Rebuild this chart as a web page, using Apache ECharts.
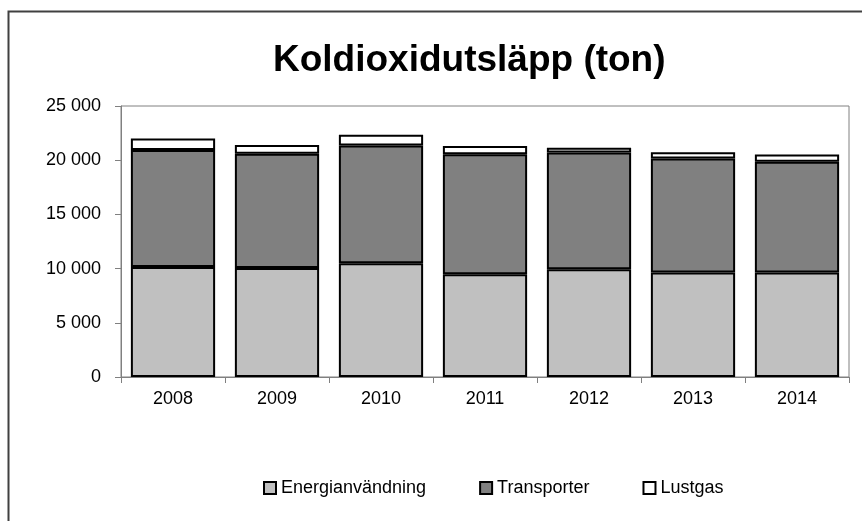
<!DOCTYPE html>
<html>
<head>
<meta charset="utf-8">
<script src="https://cdn.jsdelivr.net/npm/echarts@6/dist/echarts.min.js"></script>
<style>
html,body{margin:0;padding:0;background:#fff;}
#chart{width:862px;height:521px;}
</style>
</head>
<body>
<div id="chart"></div>
<script>
const categories = ['2008','2009','2010','2011','2012','2013','2014'];
const energianvandning = [10150, 10050, 10500, 9480, 9950, 9630, 9630];
const transporter = [10800, 10550, 10850, 11080, 10750, 10520, 10220];
const lustgas = [1050, 800, 1000, 750, 450, 580, 680];
const yTicks = [0, 5000, 10000, 15000, 20000, 25000];

const FONT = '"Liberation Sans", Arial, sans-serif';
const chart = echarts.init(document.getElementById('chart'), null, {renderer: 'canvas'});

function fmt(v){
  return String(v).replace(/\B(?=(\d{3})+(?!\d))/g, ' ');
}
const barStyle = c => ({color: c, borderColor: '#000', borderWidth: 2});

chart.setOption({
  animation: false,
  backgroundColor: '#fff',
  title: {
    text: 'Koldioxidutsläpp (ton)',
    left: 268, top: 37,
    textStyle: {fontFamily: FONT, fontWeight: 'bold', fontSize: 37, color: '#000'}
  },
  legend: {
    left: 263, top: 479, padding: 0,
    itemWidth: 12, itemHeight: 12, itemGap: 53,
    icon: 'rect',
    textStyle: {fontFamily: FONT, fontSize: 18, color: '#000'},
    data: [
      {name: 'Energianvändning', itemStyle: {color: '#c0c0c0', borderColor: '#000', borderWidth: 2}},
      {name: 'Transporter', itemStyle: {color: '#808080', borderColor: '#000', borderWidth: 2}},
      {name: 'Lustgas', itemStyle: {color: '#fff', borderColor: '#000', borderWidth: 2}}
    ]
  },
  grid: {
    left: 121, right: 13, top: 106, bottom: 144,
    show: true, borderColor: '#808080', borderWidth: 1, backgroundColor: 'transparent'
  },
  xAxis: {
    type: 'category', data: categories,
    axisLine: {lineStyle: {color: '#808080', width: 1}},
    axisTick: {show: true, length: 6, lineStyle: {color: '#808080'}, alignWithLabel: false},
    axisLabel: {fontFamily: FONT, fontSize: 18, color: '#000', margin: 13}
  },
  yAxis: {
    type: 'value', min: yTicks[0], max: yTicks[yTicks.length-1], interval: 5000,
    axisLine: {show: true, lineStyle: {color: '#808080', width: 1}},
    axisTick: {show: true, length: 6, lineStyle: {color: '#808080'}},
    splitLine: {show: false},
    axisLabel: {fontFamily: FONT, fontSize: 18, color: '#000', margin: 20, formatter: fmt}
  },
  series: [
    {name: 'Energianvändning', type: 'bar', stack: 'a', data: energianvandning, barWidth: '81%', itemStyle: barStyle('#c0c0c0')},
    {name: 'Transporter', type: 'bar', stack: 'a', data: transporter, itemStyle: barStyle('#808080')},
    {name: 'Lustgas', type: 'bar', stack: 'a', data: lustgas, itemStyle: barStyle('#ffffff')}
  ],
  graphic: [
    {type: 'rect', shape: {x: 8.5, y: 11.5, width: 900, height: 600}, style: {fill: 'none', stroke: '#404040', lineWidth: 2}, silent: true, z: 100}
  ]
});
</script>
</body>
</html>
